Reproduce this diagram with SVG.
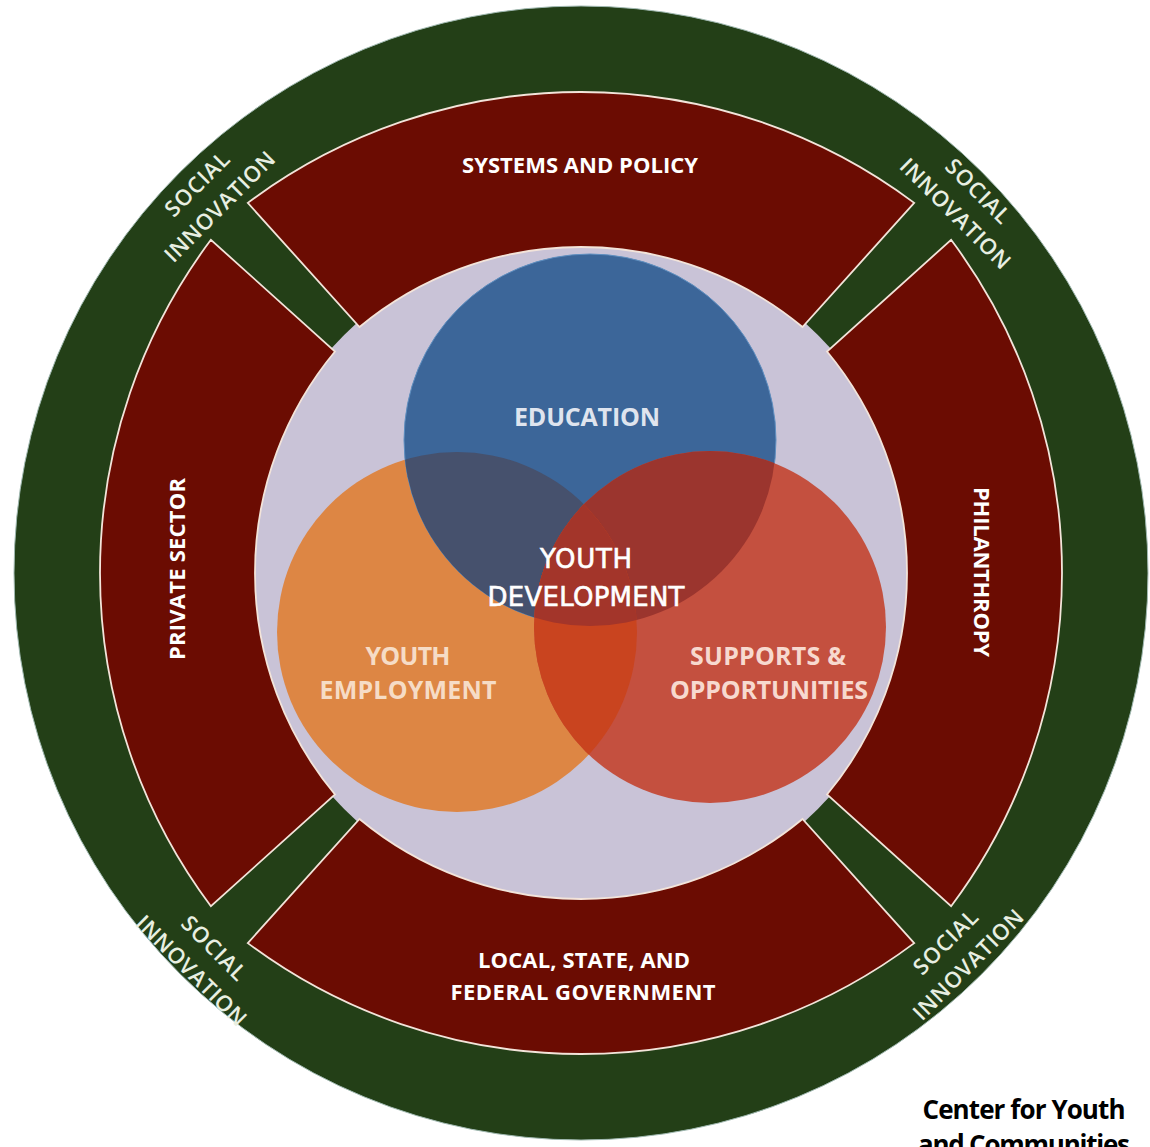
<svg xmlns="http://www.w3.org/2000/svg" width="1150" height="1147" viewBox="0 0 1150 1147">
  <style>
    .lbl { font-family: "Open Sans", "Liberation Sans", sans-serif; font-weight: 700; fill: #ffffff; text-anchor: middle; }
    .ring { font-size: 22px; }
    .si { font-family: "Open Sans", "Liberation Sans", sans-serif; font-weight: 600; font-size: 22px; fill: #e8efe2; text-anchor: middle; }
    .venn { font-size: 25px; }
    .yd { font-family: "DejaVu Sans", "Liberation Sans", sans-serif; font-size: 26px; fill: #ffffff; stroke: #ffffff; stroke-width: 0.6; text-anchor: middle; }
    .sector { fill: #6b0c02; stroke: #f3e4da; stroke-width: 1.8; }
  </style>
  <defs>
    <clipPath id="clip-blue"><circle cx="590" cy="440" r="186"/></clipPath>
    <clipPath id="clip-orange"><circle cx="457" cy="632" r="180"/></clipPath>
  </defs>

  <rect width="1150" height="1147" fill="#ffffff"/>

  <!-- outer social innovation ring -->
  <g id="social-innovation-ring">
    <circle cx="581" cy="573" r="567" fill="#233f17" stroke="#9fb8b0" stroke-width="1"/>
  </g>

  <!-- central field -->
  <g id="core">
    <circle cx="581" cy="572" r="335" fill="#c9c3d7"/>
  </g>

  <!-- four sectors of the middle ring -->
  <g id="systems-and-policy">
    <path class="sector" d="M247.8,202.9 A556,556 0 0 1 914.2,202.9 L802.5,327 A346.6,346.6 0 0 0 359.5,327 Z"/>
    <text class="lbl ring" x="580" y="173" textLength="236">SYSTEMS AND POLICY</text>
  </g>
  <g id="philanthropy">
    <path class="sector" d="M951.1,239.8 A556,556 0 0 1 951.1,906.2 L827,794.5 A346.6,346.6 0 0 0 827,351.5 Z"/>
    <text class="lbl ring" transform="translate(982,572) rotate(90)" x="0" y="8" textLength="170">PHILANTHROPY</text>
  </g>
  <g id="government">
    <path class="sector" d="M914.2,943.1 A556,556 0 0 1 247.8,943.1 L359.5,819 A346.6,346.6 0 0 0 802.5,819 Z"/>
    <text class="lbl ring" x="584" y="968" textLength="212">LOCAL, STATE, AND</text>
    <text class="lbl ring" x="583" y="1000" textLength="265">FEDERAL GOVERNMENT</text>
  </g>
  <g id="private-sector">
    <path class="sector" d="M210.9,906.2 A556,556 0 0 1 210.9,239.8 L335,351.5 A346.6,346.6 0 0 0 335,794.5 Z"/>
    <text class="lbl ring" transform="translate(177,569) rotate(-90)" x="0" y="8" textLength="182">PRIVATE SECTOR</text>
  </g>

  <!-- social innovation labels in the gaps -->
  <g id="si-top-left" transform="rotate(-45 208.5 195.5)">
    <text class="si" x="208.5" y="187" textLength="81">SOCIAL</text>
    <text class="si" x="208.5" y="219" textLength="146">INNOVATION</text>
  </g>
  <g id="si-top-right" transform="rotate(45 966.5 202.5)">
    <text class="si" x="966.5" y="194" textLength="81">SOCIAL</text>
    <text class="si" x="966.5" y="226" textLength="146">INNOVATION</text>
  </g>
  <g id="si-bottom-left" transform="rotate(45 202.5 959.5)">
    <text class="si" x="202.5" y="951" textLength="81">SOCIAL</text>
    <text class="si" x="202.5" y="983" textLength="146">INNOVATION</text>
  </g>
  <g id="si-bottom-right" transform="rotate(-45 957 953.5)">
    <text class="si" x="957" y="945" textLength="81">SOCIAL</text>
    <text class="si" x="957" y="977" textLength="146">INNOVATION</text>
  </g>

  <!-- overlapping circles -->
  <g id="youth-employment">
    <circle cx="457" cy="632" r="180" fill="#dd8644"/>
  </g>
  <g id="education">
    <circle cx="590" cy="440" r="186" fill="#3c6699" stroke="#5f8fc0" stroke-width="1"/>
    <circle cx="457" cy="632" r="180" fill="#46516d" clip-path="url(#clip-blue)"/>
  </g>
  <g id="supports-and-opportunities">
    <circle cx="710" cy="627" r="176" fill="#c4503f"/>
    <circle cx="710" cy="627" r="176" fill="#9b352e" clip-path="url(#clip-blue)"/>
    <circle cx="710" cy="627" r="176" fill="#c9441f" clip-path="url(#clip-orange)"/>
    <g clip-path="url(#clip-blue)">
      <circle cx="710" cy="627" r="176" fill="#a3352a" clip-path="url(#clip-orange)"/>
    </g>
  </g>

  <!-- circle labels -->
  <g id="labels">
    <text class="lbl venn" x="587" y="426" style="fill:#dfe4ee" textLength="146">EDUCATION</text>
    <text class="lbl venn" x="408" y="665" style="fill:#f6dcc6" textLength="85">YOUTH</text>
    <text class="lbl venn" x="408" y="699" style="fill:#f6dcc6" textLength="177">EMPLOYMENT</text>
    <text class="lbl venn" x="768" y="665" style="fill:#f7d9cf" textLength="156">SUPPORTS &amp;</text>
    <text class="lbl venn" x="769" y="699" style="fill:#f7d9cf" textLength="198">OPPORTUNITIES</text>
    <text class="yd" x="586" y="568" textLength="92">YOUTH</text>
    <text class="yd" x="586" y="606" textLength="197">DEVELOPMENT</text>
  </g>

  <!-- credit -->
  <g id="credit">
    <text x="1024" y="1119" font-family="'Open Sans', 'Liberation Sans', sans-serif" font-weight="700" font-size="26" fill="#000000" text-anchor="middle" textLength="203">Center for Youth</text>
    <text x="1024" y="1154" font-family="'Open Sans', 'Liberation Sans', sans-serif" font-weight="700" font-size="26" fill="#000000" text-anchor="middle" textLength="212">and Communities</text>
  </g>
</svg>
